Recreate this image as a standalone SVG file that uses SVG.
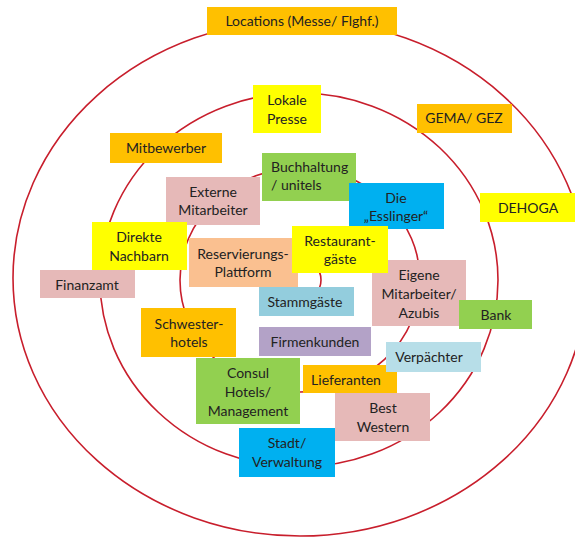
<svg xmlns="http://www.w3.org/2000/svg" width="575" height="537" viewBox="0 0 575 537">
<style>
  .ring { fill: none; stroke: #C81E2C; stroke-width: 1.6; }
  text { font-family: Lato, "Liberation Sans", sans-serif; font-size: 14px; fill: #222; text-anchor: middle; }
  .l { text-anchor: start; }
  .or { fill: #FFC000; }
  .ye { fill: #FFFF00; }
  .gr { fill: #92D050; }
  .pk { fill: #E6B9B8; }
  .bl { fill: #00B0F0; }
  .pe { fill: #FAC090; }
  .lb { fill: #93CDDD; }
  .lb2 { fill: #B7DEE8; }
  .pu { fill: #B3A2C7; }
</style>
<rect width="575" height="537" fill="#fff"/>
<g id="rings">
  <ellipse class="ring" cx="300" cy="278" rx="287" ry="258"/>
  <ellipse class="ring" cx="299" cy="280" rx="199" ry="187"/>
  <ellipse class="ring" cx="300" cy="280" rx="120" ry="112"/>
  <circle class="ring" cx="300" cy="280" r="21"/>
</g>
<g id="connectors"></g>
<g id="locations"><rect class="or" x="207" y="7" width="190" height="28"/><text x="302" y="26">Locations (Messe/ Flghf.)</text></g>
<g id="lokale-presse"><rect class="ye" x="253" y="85" width="68" height="48"/><text x="287" y="105">Lokale</text><text x="287" y="124">Presse</text></g>
<g id="gema"><rect class="or" x="417" y="104" width="95" height="29"/><text x="464" y="123">GEMA/ GEZ</text></g>
<g id="mitbewerber"><rect class="or" x="110" y="133" width="112" height="30"/><text x="166" y="153">Mitbewerber</text></g>
<g id="buchhaltung"><rect class="gr" x="262" y="153" width="94" height="48"/><text class="l" x="271" y="172">Buchhaltung</text><text class="l" x="271" y="190">/ unitels</text></g>
<g id="externe"><rect class="pk" x="166" y="177" width="94" height="48"/><text x="213" y="197">Externe</text><text x="213" y="215">Mitarbeiter</text></g>
<g id="esslinger"><rect class="bl" x="349" y="183" width="95" height="46"/><text x="396" y="203">Die</text><text x="396" y="221">„Esslinger“</text></g>
<g id="dehoga"><rect class="ye" x="480" y="193" width="95" height="29"/><text x="528" y="213">DEHOGA</text></g>
<g id="direkte-nachbarn"><rect class="ye" x="92" y="222" width="95" height="48"/><text x="139" y="242">Direkte</text><text x="139" y="261">Nachbarn</text></g>
<g id="reservierungs"><rect class="pe" x="189" y="238" width="109" height="49"/><text x="243" y="259">Reservierungs-</text><text x="243" y="277">Plattform</text></g>
<g id="eigene"><rect class="pk" x="372" y="260" width="94" height="66"/><text x="419" y="280">Eigene</text><text x="419" y="299">Mitarbeiter/</text><text x="419" y="318">Azubis</text></g>
<g id="restaurant"><rect class="ye" x="292" y="226" width="96" height="47"/><text x="340" y="246">Restaurant-</text><text x="340" y="264">gäste</text></g>
<g id="finanzamt"><rect class="pk" x="40" y="270" width="95" height="28"/><text x="87" y="290">Finanzamt</text></g>
<g id="stammgaeste"><rect class="lb" x="259" y="287" width="95" height="29"/><text x="305" y="307">Stammgäste</text></g>
<g id="bank"><rect class="gr" x="459" y="300" width="73" height="29"/><text x="496" y="320">Bank</text></g>
<g id="schwester"><rect class="or" x="141" y="308" width="95" height="49"/><text x="189" y="329">Schwester-</text><text x="189" y="347">hotels</text></g>
<g id="firmenkunden"><rect class="pu" x="259" y="327" width="112" height="29"/><text x="315" y="347">Firmenkunden</text></g>
<g id="lieferanten"><rect class="or" x="303" y="365" width="94" height="28"/><text x="346" y="385">Lieferanten</text></g>
<g id="verpaechter"><rect class="lb2" x="386" y="342" width="95" height="30"/><text x="429" y="362">Verpächter</text></g>
<g id="consul"><rect class="gr" x="196" y="358" width="104" height="66"/><text x="248" y="378">Consul</text><text x="248" y="397">Hotels/</text><text x="248" y="416">Management</text></g>
<g id="best-western"><rect class="pk" x="335" y="393" width="95" height="48"/><text x="383" y="413">Best</text><text x="383" y="432">Western</text></g>
<g id="stadt"><rect class="bl" x="239" y="428" width="96" height="49"/><text x="287" y="448">Stadt/</text><text x="287" y="467">Verwaltung</text></g>
</svg>
